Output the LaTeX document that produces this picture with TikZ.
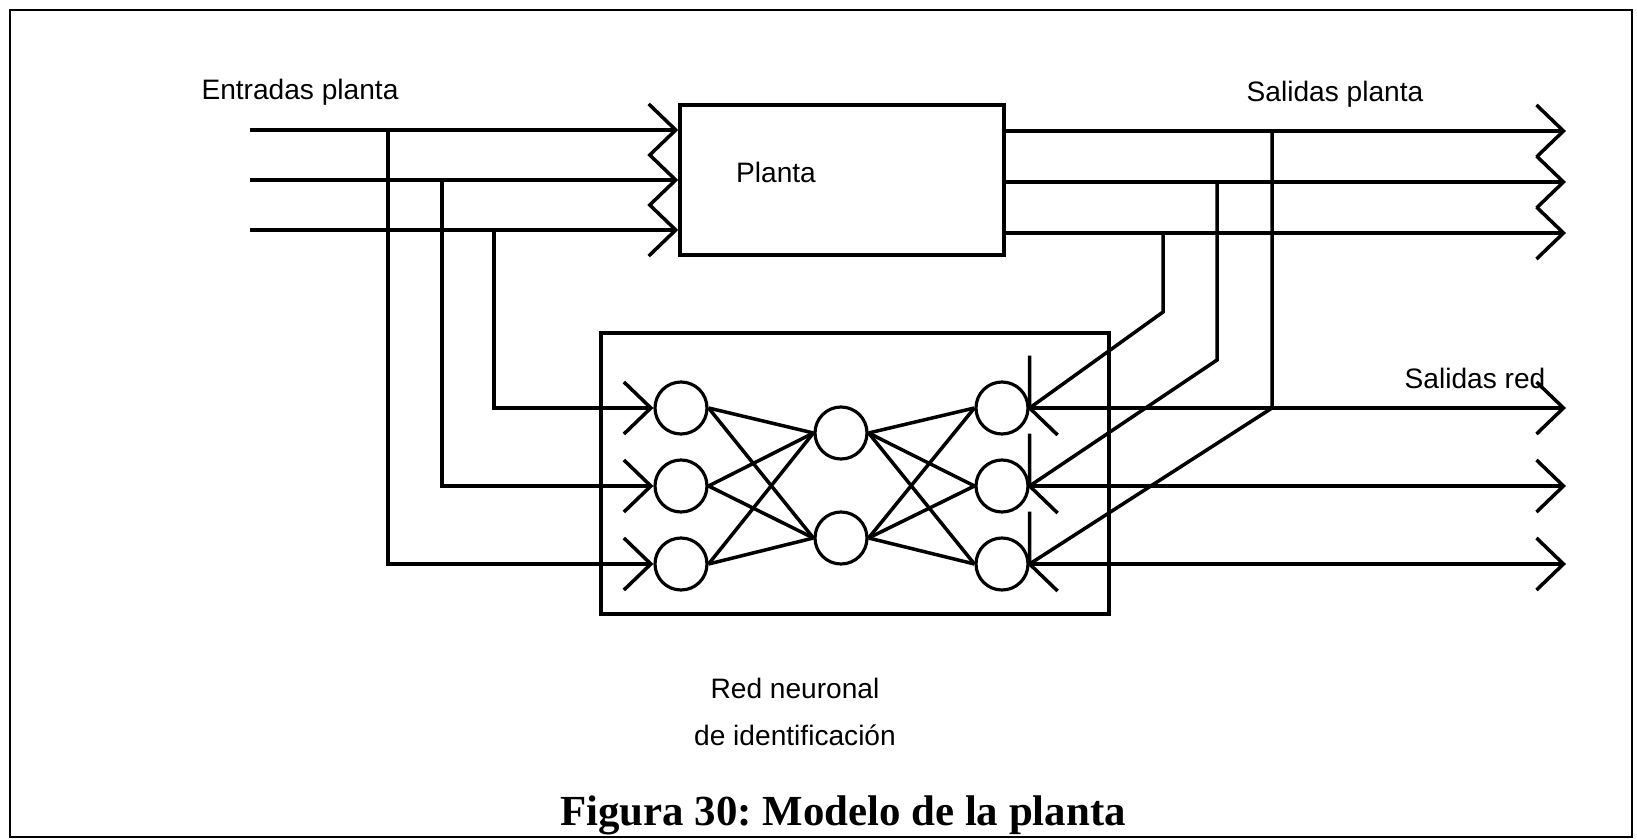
\documentclass[tikz,border=0pt]{standalone}
\usepackage{fontspec}
\setmainfont{Liberation Serif}
\setsansfont{Liberation Sans}
\usetikzlibrary{arrows.meta, positioning, calc}
\tikzset{
    lbl/.style={font=\sffamily\fontsize{16}{19}\selectfont, inner sep=0pt},
    capt/.style={font=\rmfamily\bfseries\fontsize{24.4}{28}\selectfont, inner sep=0pt}
}

\begin{document}
\begin{tikzpicture}[
    block/.style={rectangle, draw=black, line width=2pt, minimum width=6.48cm, minimum height=3cm},
    group/.style={rectangle, draw=black, line width=2pt, minimum width=10.16cm, minimum height=5.62cm},
    neuron/.style={circle, draw=black, line width=1.8pt, minimum size=1.04cm, inner sep=0pt},
    wire/.style={line width=2pt},
    arrow/.style={line width=2pt, -{Straight Barb[length=5.4mm, width=10.4mm, sharp]}}
]
    \useasboundingbox (0,0) rectangle (32.74,-16.78);
    \draw[line width=1.3pt] (0.2,-0.2) rectangle (32.64,-16.74);

    % Plant
    \node[block] (planta) at (16.84,-3.6) {};
    \node[lbl] (plantatxt) at (15.52,-3.44) {Planta};

    % Identification network
    \node[group] (red) at (17.1,-9.47) {};
    \node[neuron] (i1) at (13.62,-8.16) {};
    \node[neuron] (i2) at (13.62,-9.72) {};
    \node[neuron] (i3) at (13.62,-11.28) {};
    \node[neuron] (h1) at (16.82,-8.66) {};
    \node[neuron] (h2) at (16.82,-10.76) {};
    \node[neuron] (o1) at (20.04,-8.16) {};
    \node[neuron] (o2) at (20.04,-9.72) {};
    \node[neuron] (o3) at (20.04,-11.28) {};

    % Labels
    \node[lbl] (entradas) at (6.0,-1.84) {Entradas planta};
    \node[lbl] (salidasp) at (26.7,-1.88) {Salidas planta};
    \node[lbl] (salidasr) at (29.5,-7.56) {Salidas red};
    \node[lbl, align=center, font=\sffamily\fontsize{16}{27}\selectfont] (rednote) at (15.9,-14.24) {Red neuronal\\de identificación};
    \node[capt, anchor=base] (caption) at (16.86,-16.5) {Figura 30:\ Modelo de la planta};

    % Plant inputs
    \coordinate (e1) at (5.0,-2.6);
    \coordinate (e2) at (5.0,-3.6);
    \coordinate (e3) at (5.0,-4.6);
    \draw[arrow] (e1) -- (e1 -| planta.west);
    \draw[arrow] (e2) -- (e2 -| planta.west);
    \draw[arrow] (e3) -- (e3 -| planta.west);

    % Inputs fed to the network
    \coordinate (b1) at (7.76,-2.6);
    \coordinate (b2) at (8.84,-3.6);
    \coordinate (b3) at (9.88,-4.6);
    \draw[arrow] (b1) |- (i3.west);
    \draw[arrow] (b2) |- (i2.west);
    \draw[arrow] (b3) |- (i1.west);

    % Layer connections
    \draw[wire] (i1.east) -- (h1.west);
    \draw[wire] (i1.east) -- (h2.west);
    \draw[wire] (i2.east) -- (h1.west);
    \draw[wire] (i2.east) -- (h2.west);
    \draw[wire] (i3.east) -- (h1.west);
    \draw[wire] (i3.east) -- (h2.west);
    \draw[wire] (h1.east) -- (o1.west);
    \draw[wire] (h1.east) -- (o2.west);
    \draw[wire] (h1.east) -- (o3.west);
    \draw[wire] (h2.east) -- (o1.west);
    \draw[wire] (h2.east) -- (o2.west);
    \draw[wire] (h2.east) -- (o3.west);

    % Plant outputs
    \coordinate (s1) at (31.32,-2.62);
    \coordinate (s2) at (31.32,-3.64);
    \coordinate (s3) at (31.32,-4.66);
    \draw[arrow] (planta.east |- s1) -- (s1);
    \draw[arrow] (planta.east |- s2) -- (s2);
    \draw[arrow] (planta.east |- s3) -- (s3);

    % Plant outputs taken back to the network
    \coordinate (c1) at (25.44,-2.62);
    \coordinate (c2) at (24.34,-3.64);
    \coordinate (c3) at (23.26,-4.66);
    \coordinate (k1) at (25.44,-8.16);
    \coordinate (k2) at (24.34,-7.2);
    \coordinate (k3) at (23.26,-6.24);
    \draw[wire] (c1) -- (k1) -- (o3.east);
    \draw[wire] (c2) -- (k2) -- (o2.east);
    \draw[wire] (c3) -- (k3) -- (o1.east);
    \draw[wire] (o1.east) ++(0,1.05) -- (o1.east) -- ++(0.56,-0.54);
    \draw[wire] (o2.east) ++(0,1.05) -- (o2.east) -- ++(0.56,-0.54);
    \draw[wire] (o3.east) ++(0,1.05) -- (o3.east) -- ++(0.56,-0.54);

    % Network outputs
    \coordinate (r1) at (31.32,-8.16);
    \coordinate (r2) at (31.32,-9.72);
    \coordinate (r3) at (31.32,-11.28);
    \draw[arrow] (o1.east) -- (r1);
    \draw[arrow] (o2.east) -- (r2);
    \draw[arrow] (o3.east) -- (r3);
\end{tikzpicture}
\end{document}
